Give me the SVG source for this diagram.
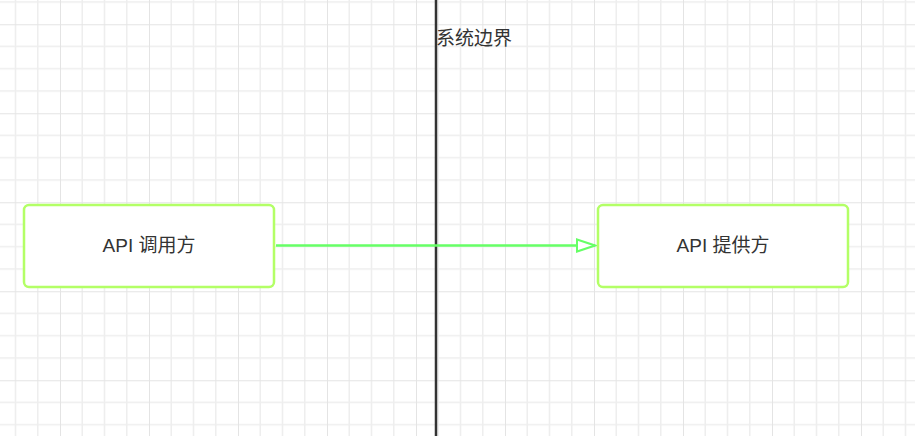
<svg xmlns="http://www.w3.org/2000/svg" width="915" height="436" viewBox="0 0 915 436">
<defs>
<pattern id="grid" x="60" y="24.25" width="89" height="89" patternUnits="userSpaceOnUse">
<path d="M22.25 0V89M44.5 0V89M66.75 0V89M0 22.25H89M0 44.5H89M0 66.75H89" stroke="#eeeeee" stroke-width="1.6" fill="none"/>
<path d="M0 0V89M0 0H89" stroke="#e4e4e4" stroke-width="2" fill="none"/>
</pattern>
<marker id="arr" markerWidth="22" markerHeight="16" refX="20" refY="8" orient="auto" markerUnits="userSpaceOnUse">
<path d="M2 2 L20 8 L2 14 Z" fill="#ffffff" stroke="#66ff66" stroke-width="2"/>
</marker>
<style>
.node rect{fill:#ffffff;stroke:#b3ff66;stroke-width:2.5}
.lbl{font-family:"Liberation Sans","Noto Sans CJK SC",sans-serif;font-size:19px;fill:#333333}
</style>
</defs>
<rect width="915" height="436" fill="#ffffff"/>
<rect width="915" height="436" fill="url(#grid)"/>
<g id="boundary">
<line x1="436" y1="0" x2="436" y2="436" stroke="#333333" stroke-width="2.5"/>
<text class="lbl" x="436" y="45">系统边界</text>
</g>
<g id="connectors">
<line x1="276" y1="245.5" x2="595" y2="245.5" stroke="#66ff66" stroke-width="2.5" marker-end="url(#arr)"/>
</g>
<g id="caller" class="node">
<rect x="24" y="205" width="250" height="82" rx="5"/>
<text class="lbl" x="149" y="252" text-anchor="middle">API 调用方</text>
</g>
<g id="provider" class="node">
<rect x="598" y="205" width="250" height="82" rx="5"/>
<text class="lbl" x="723" y="252" text-anchor="middle">API 提供方</text>
</g>
</svg>
